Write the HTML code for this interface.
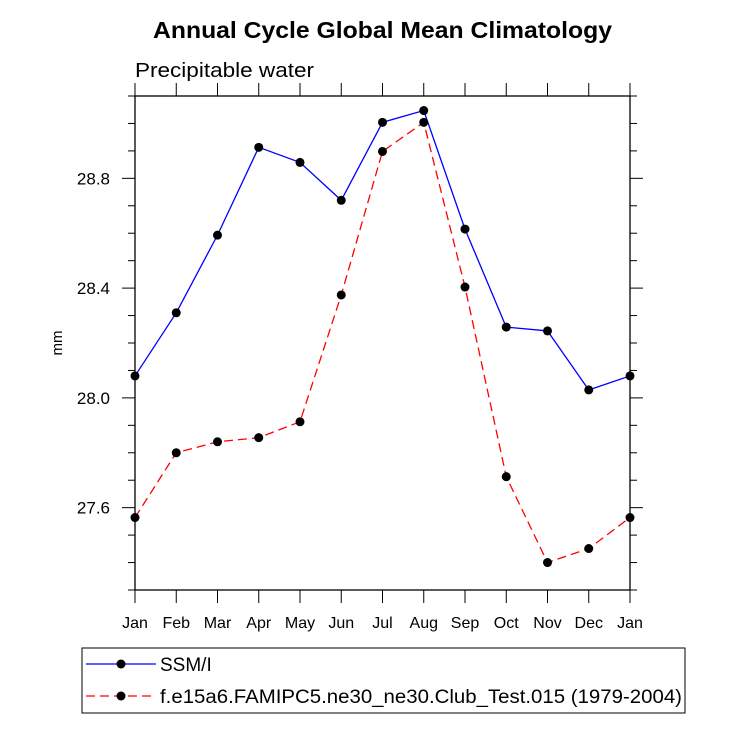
<!DOCTYPE html>
<html><head><meta charset="utf-8"><style>
body{margin:0;background:#fff;}
svg text{font-family:"Liberation Sans",sans-serif;}
</style></head><body>
<svg width="733" height="734" xmlns="http://www.w3.org/2000/svg">
<text x="153" y="38" font-size="23" font-weight="bold" textLength="459" lengthAdjust="spacingAndGlyphs">Annual Cycle Global Mean Climatology</text>
<text x="135" y="77" font-size="20" textLength="179" lengthAdjust="spacingAndGlyphs">Precipitable water</text>
<text x="0" y="0" font-size="15" transform="translate(62,343) rotate(-90)" text-anchor="middle">mm</text>
<g id="plot"></g>
<rect x="82" y="648" width="603" height="65" fill="none" stroke="#000" stroke-width="1"/>
<line x1="86" y1="664" x2="156" y2="664" stroke="#0000ff" stroke-width="1.3"/>
<circle cx="121" cy="664" r="4.5" fill="#000"/>
<text x="160" y="671" font-size="19">SSM/I</text>
<line x1="86" y1="696" x2="156" y2="696" stroke="#ff0000" stroke-width="1.3" stroke-dasharray="9,5"/>
<circle cx="121" cy="696" r="4.5" fill="#000"/>
<text x="160" y="703" font-size="19" textLength="522" lengthAdjust="spacingAndGlyphs">f.e15a6.FAMIPC5.ne30_ne30.Club_Test.015 (1979-2004)</text>
</svg>
<script>
const months=["Jan","Feb","Mar","Apr","May","Jun","Jul","Aug","Sep","Oct","Nov","Dec","Jan"];
const ssmi=[28.08,28.31,28.593,28.913,28.858,28.72,29.004,29.047,28.615,28.258,28.244,28.029,28.08];
const model=[27.564,27.8,27.84,27.855,27.913,28.375,28.898,29.004,28.404,27.713,27.4,27.451,27.564];
const yTicks=[27.6,28.0,28.4,28.8];
const yMin=27.3,yMax=29.1;
const L=135,R=630,T=96,B=590;
const NS="http://www.w3.org/2000/svg";
const g=document.getElementById('plot');
const xs=i=>L+i*(R-L)/(months.length-1);
const ys=v=>B-(v-yMin)/(yMax-yMin)*(B-T);
function el(t,a){const e=document.createElementNS(NS,t);for(const k in a)e.setAttribute(k,a[k]);g.appendChild(e);return e;}
let f=el('rect',{x:L,y:T,width:R-L,height:B-T,fill:'none',stroke:'#000','stroke-width':1.3});


for(let v=27.3;v<=29.1001;v+=0.1){
 const y=ys(v);const major=yTicks.some(t=>Math.abs(t-v)<1e-6);const len=major?13:7;
 let a=el('line',{x1:L-len,y1:y,x2:L,y2:y,stroke:'#000','stroke-width':1});
 
 
 let b=el('line',{x1:R,y1:y,x2:R+len,y2:y,stroke:'#000','stroke-width':1});
 
 
}
yTicks.forEach(v=>{let t=el('text',{x:L-25,y:ys(v)+6,'text-anchor':'end','font-size':17});t.textContent=v.toFixed(1);
 
 });
months.forEach((m,i)=>{const x=xs(i);
 let a=el('line',{x1:x,y1:B,x2:x,y2:B+13,stroke:'#000'});
 
 
 let b=el('line',{x1:x,y1:T,x2:x,y2:T-13,stroke:'#000'});
 
 
 let t=el('text',{x:x,y:628,'text-anchor':'middle','font-size':16});t.textContent=m;
 
 });
function series(data,color,dash,name){
 let p=el('polyline',{points:data.map((v,i)=>xs(i)+','+ys(v)).join(' '),fill:'none',stroke:color,'stroke-width':1.3,'stroke-dasharray':dash});
 
 
 data.forEach((v,i)=>{let c=el('circle',{cx:xs(i),cy:ys(v),r:4.5,fill:'#000'});
  
  });
}
series(ssmi,'#0000ff','none','ssmi');
series(model,'#ff0000','9,5','model');
</script>
</body></html>
